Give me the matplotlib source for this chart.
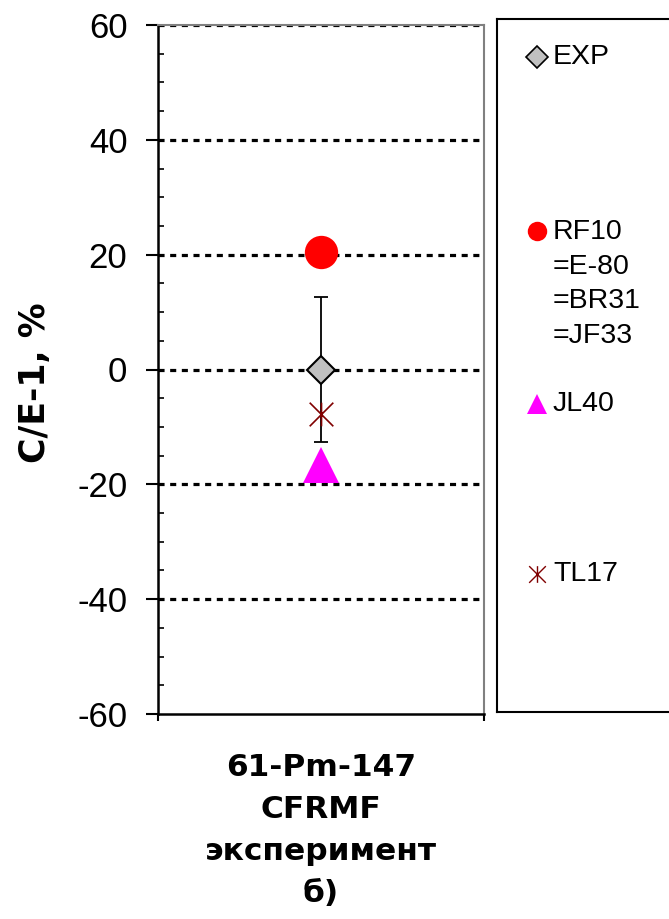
import matplotlib
matplotlib.use("Agg")
import matplotlib.pyplot as plt
from matplotlib.path import Path

plt.rcParams["font.family"] = ["Liberation Sans", "DejaVu Sans"]
plt.rcParams["axes.unicode_minus"] = False

# Data
category = "61-Pm-147\nCFRMF\nэксперимент\nб)"
series_names = ["EXP", "RF10\n=E-80\n=BR31\n=JF33", "JL40", "TL17"]
series_values = [0.0, 20.4, -16.6, -7.7]
exp_error = 12.7
y_ticks = [-60, -40, -20, 0, 20, 40, 60]

# Excel-style "star" marker: an X with a vertical stroke
star = Path(
    [(-1, -1), (1, 1), (-1, 1), (1, -1), (0, -1), (0, 1)],
    [Path.MOVETO, Path.LINETO, Path.MOVETO, Path.LINETO, Path.MOVETO, Path.LINETO],
)

styles = [
    dict(marker="D", ms=14, mfc="#C0C0C0", mec="black", mew=1.5),
    dict(marker="o", ms=24, mfc="#FF0000", mec="#FF0000", mew=0),
    dict(marker="^", ms=26, mfc="#FF00FF", mec="#FF00FF", mew=0),
    dict(marker=star, ms=17, mfc="none", mec="#800000", mew=1.2),
]
legend_styles = [
    dict(marker="D", ms=11, mfc="#C0C0C0", mec="black", mew=1.2),
    dict(marker="o", ms=14, mfc="#FF0000", mec="#FF0000", mew=0),
    dict(marker="^", ms=15, mfc="#FF00FF", mec="#FF00FF", mew=0),
    dict(marker=star, ms=12, mfc="none", mec="#800000", mew=1.0),
]

fig = plt.figure(figsize=(6.69, 9.19), dpi=100)
W, H = 669, 919
ax = fig.add_axes([158 / W, 1 - 714 / H, (484 - 158) / W, (714 - 25) / H])

ax.set_xlim(0, 1)
ax.set_ylim(-60, 60)

# dotted gridlines at major ticks
for yv in y_ticks[1:]:
    ax.axhline(yv, color="black", lw=2.3, linestyle=(0, (1.9, 1.75)), zorder=1)

x0 = 0.5
ax.errorbar([x0], [series_values[0]], yerr=[exp_error], fmt="none",
            ecolor="black", elinewidth=1.3, capsize=5, capthick=1.3, zorder=2)
order = [1, 0, 3, 2]
for i in order:
    ax.plot([x0], [series_values[i]], linestyle="none", zorder=3 + i, **styles[i])

# axes styling
for side in ("top", "right"):
    ax.spines[side].set_color("#808080")
    ax.spines[side].set_linewidth(1.5)
for side in ("left", "bottom"):
    ax.spines[side].set_color("black")
    ax.spines[side].set_linewidth(1.8)

ax.set_yticks(y_ticks)
ax.set_yticks(range(-55, 60, 5), minor=True)
ax.tick_params(axis="y", which="major", direction="out", length=9, width=1.5,
               labelsize=25, pad=13)
ax.tick_params(axis="y", which="minor", direction="in", length=4.5, width=1.2)

ax.set_xticks([0, 1])
ax.set_xticklabels(["", ""])
ax.set_xticks([x0], minor=True)
ax.set_xticklabels([category], minor=True, fontsize=22.5, fontweight="bold",
                   family=["DejaVu Sans"], linespacing=1.56)
ax.tick_params(axis="x", which="major", direction="out", length=5, width=1.5)
ax.tick_params(axis="x", which="minor", length=0, pad=28)

fig.text(35 / W, 1 - 383 / H, "C/E-1, %", rotation=90, fontsize=25,
         fontweight="bold", family=["DejaVu Sans"], ha="center", va="center")

# legend panel
lax = fig.add_axes([497 / W, 1 - 712 / H, (700 - 497) / W, (712 - 19) / H])
lax.set_xlim(497, 700)
lax.set_ylim(712, 19)
lax.set_xticks([])
lax.set_yticks([])
for side in lax.spines.values():
    side.set_color("black")
    side.set_linewidth(1.5)

entry_y = [57, 231, 404, 574]
for name, st, yy in zip(series_names, legend_styles, entry_y):
    lax.plot([537], [yy], linestyle="none", **st)
    multi = "\n" in name
    lax.text(553, yy - 12 if multi else yy, name, fontsize=20.5, ha="left",
             va="top" if multi else "center", linespacing=1.43)

fig.savefig("out.png", dpi=100)
